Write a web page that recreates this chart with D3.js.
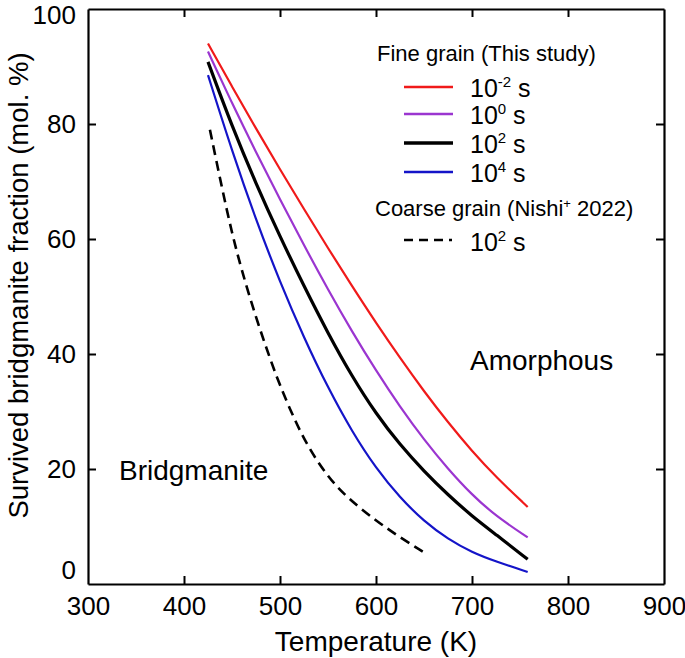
<!DOCTYPE html>
<html><head><meta charset="utf-8">
<script src="https://cdn.jsdelivr.net/npm/d3@7"></script>
<style>body{margin:0;background:#fff}svg{display:block}text{font-family:"Liberation Sans",Arial,sans-serif;fill:#000}</style>
</head><body><svg id="c" width="685" height="658"></svg>
<script>
const temps = [425,450,475,500,525,550,575,600,625,650,675,700,725,758];
const fine_m2 = [94.0,86.5,79.2,72.1,65.2,58.4,51.8,45.4,39.3,33.5,28.1,23.1,18.6,13.4];
const fine_0  = [92.6,83.6,75.1,66.9,58.9,51.2,43.9,37.1,30.8,25.1,20.0,15.5,11.8,8.1];
const fine_2  = [90.8,79.6,69.6,60.4,51.8,43.6,36.1,29.6,24.2,19.6,15.5,11.8,8.6,4.3];
const fine_4  = [88.5,75.3,63.3,52.5,42.8,34.1,26.5,20.1,15.0,10.9,7.8,5.5,3.9,2.1];
const coarseT = [427,440,450,460,475,490,500,515,530,550,570,600,625,650];
const coarse_2 = [79,68.5,61.0,54.6,46.3,39.0,34.5,28.6,23.6,18.6,15.0,11.0,8.1,5.5];
const xTicks = [300,400,500,600,700,800,900];
const yTicks = [0,20,40,60,80,100];
const series = [
  {vals: fine_m2, color:"#f01a1a", w:2.2, exp:"-2"},
  {vals: fine_0,  color:"#9b35d0", w:2.2, exp:"0"},
  {vals: fine_2,  color:"#000000", w:3.2, exp:"2"},
  {vals: fine_4,  color:"#1414c8", w:2.2, exp:"4"}
];

const svg = d3.select("#c");
const x = d3.scaleLinear().domain([300,900]).range([88,664]);
const y = d3.scaleLinear().domain([0,100]).range([584,9]);
const line = d3.line().x(d=>x(d[0])).y(d=>y(d[1])).curve(d3.curveBasis);

series.forEach(s=>{
  svg.append("path").attr("d", line(temps.map((t,i)=>[t,s.vals[i]])))
    .attr("fill","none").attr("stroke",s.color).attr("stroke-width",s.w);
});
svg.append("path").attr("d", line(coarseT.map((t,i)=>[t,coarse_2[i]])))
  .attr("fill","none").attr("stroke","#000").attr("stroke-width",2.6).attr("stroke-dasharray","10,6");

const tickLen = 8;
const gBottom = svg.append("g").attr("transform",`translate(0,${y(0)})`)
  .call(d3.axisBottom(x).tickValues(xTicks).tickSizeInner(-tickLen).tickSizeOuter(0).tickPadding(13));
const gTop = svg.append("g").attr("transform",`translate(0,${y(100)})`)
  .call(d3.axisTop(x).tickValues(xTicks).tickSizeInner(-tickLen).tickSizeOuter(0).tickFormat(""));
const gLeft = svg.append("g").attr("transform",`translate(${x(300)},0)`)
  .call(d3.axisLeft(y).tickValues(yTicks).tickSizeInner(-tickLen).tickSizeOuter(0).tickPadding(12));
const gRight = svg.append("g").attr("transform",`translate(${x(900)},0)`)
  .call(d3.axisRight(y).tickValues(yTicks).tickSizeInner(-tickLen).tickSizeOuter(0).tickFormat(""));
[gBottom,gTop,gLeft,gRight].forEach(g=>{
  g.select(".domain").attr("stroke","#000").attr("stroke-width",2.2);
  g.selectAll(".tick line").attr("stroke","#000").attr("stroke-width",2);
  g.selectAll(".tick text").style("font-size","26px").attr("fill","#000");
});
[gBottom,gTop].forEach(g=>g.selectAll(".tick").filter(d=>d===300||d===900).select("line").remove());
[gLeft,gRight].forEach(g=>g.selectAll(".tick").filter(d=>d===0||d===100).select("line").remove());
gBottom.selectAll(".tick text").attr("dy","0.71em");
gLeft.selectAll(".tick").filter(d=>d===0).select("text").attr("y",-14);
gLeft.selectAll(".tick").filter(d=>d===100).select("text").attr("y",6);

svg.append("text").attr("x",(x(300)+x(900))/2).attr("y",651).attr("text-anchor","middle")
  .style("font-size","28px").text("Temperature (K)");
svg.append("text").attr("transform",`translate(28,${y(50)-11}) rotate(-90)`).attr("text-anchor","middle")
  .style("font-size","27.5px").text("Survived bridgmanite fraction (mol. %)");

svg.append("text").attr("x",470).attr("y",370).style("font-size","28px").text("Amorphous");
svg.append("text").attr("x",119).attr("y",480).style("font-size","28px").text("Bridgmanite");

svg.append("text").attr("x",377).attr("y",61).style("font-size","22px").text("Fine grain (This study)");
const rowY = [87,114,143,172];
series.forEach((s,i)=>{
  svg.append("line").attr("x1",404).attr("x2",453).attr("y1",rowY[i]).attr("y2",rowY[i])
    .attr("stroke",s.color).attr("stroke-width",s.w+0.4);
  const t = svg.append("text").attr("x",470).attr("y",rowY[i]+10).style("font-size","25px");
  t.append("tspan").text("10");
  t.append("tspan").attr("dy",-10).style("font-size","15px").text(s.exp);
  t.append("tspan").attr("dy",10).text(" s");
});
const t2 = svg.append("text").attr("x",375).attr("y",216).style("font-size","22px");
t2.append("tspan").text("Coarse grain (Nishi");
t2.append("tspan").attr("dy",-8).style("font-size","13px").text("+");
t2.append("tspan").attr("dy",8).text(" 2022)");
svg.append("line").attr("x1",404).attr("x2",452).attr("y1",240).attr("y2",240)
  .attr("stroke","#000").attr("stroke-width",2.6).attr("stroke-dasharray","9,6");
const t3 = svg.append("text").attr("x",470).attr("y",251).style("font-size","25px");
t3.append("tspan").text("10");
t3.append("tspan").attr("dy",-10).style("font-size","15px").text("2");
t3.append("tspan").attr("dy",10).text(" s");
</script></body></html>
